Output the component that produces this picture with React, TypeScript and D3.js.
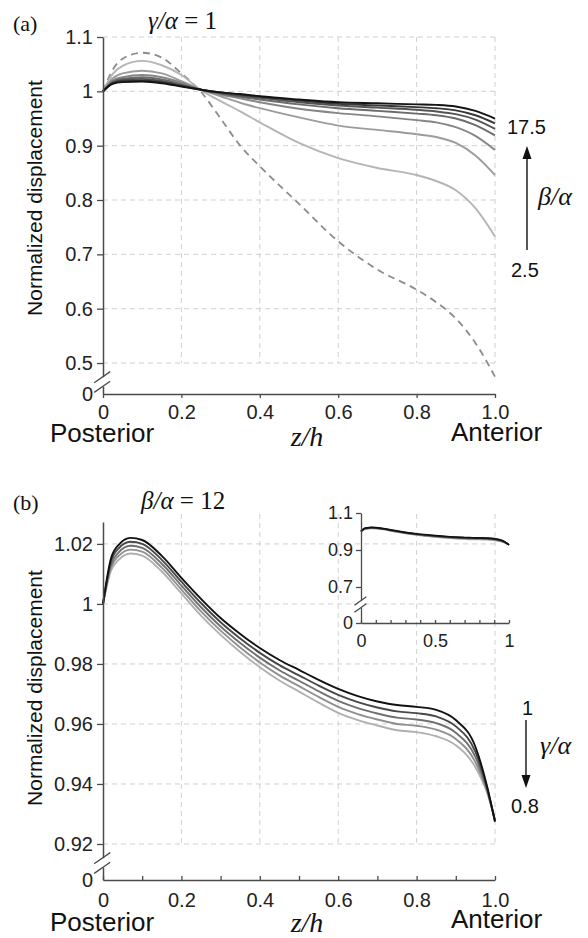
import React, { useEffect, useRef } from 'react';
import * as d3 from 'd3';

// ---- panel (a): gamma/alpha = 1, beta/alpha from 2.5 to 17.5 ----
const zA = [0, 0.025, 0.05, 0.1, 0.15, 0.2, 0.25, 0.3, 0.35, 0.4, 0.5, 0.6, 0.7, 0.8, 0.85, 0.9, 0.95, 1.0];
const dashedA = [1.0, 1.040, 1.060, 1.071, 1.062, 1.033, 0.999, 0.950, 0.900, 0.862, 0.793, 0.724, 0.672, 0.635, 0.612, 0.582, 0.537, 0.475];
const beta25 = [1.0, 1.032, 1.047, 1.056, 1.048, 1.030, 1.002, 0.982, 0.963, 0.943, 0.905, 0.877, 0.859, 0.846, 0.835, 0.818, 0.785, 0.733];
const beta5 = [1.0, 1.024, 1.033, 1.038, 1.033, 1.019, 1.003, 0.991, 0.979, 0.969, 0.952, 0.937, 0.929, 0.921, 0.916, 0.905, 0.882, 0.846];
const beta75 = [1.0, 1.020, 1.026, 1.030, 1.026, 1.016, 1.003, 0.994, 0.987, 0.980, 0.968, 0.960, 0.954, 0.947, 0.943, 0.934, 0.918, 0.892];
const beta10 = [1.0, 1.018, 1.023, 1.026, 1.022, 1.013, 1.003, 0.996, 0.990, 0.985, 0.976, 0.969, 0.964, 0.959, 0.956, 0.950, 0.938, 0.919];
const beta125 = [1.0, 1.016, 1.021, 1.023, 1.019, 1.011, 1.003, 0.997, 0.992, 0.988, 0.980, 0.974, 0.970, 0.966, 0.963, 0.958, 0.948, 0.931];
const beta15 = [1.0, 1.015, 1.019, 1.020, 1.017, 1.010, 1.003, 0.998, 0.994, 0.990, 0.983, 0.977, 0.974, 0.971, 0.969, 0.965, 0.956, 0.941];
const beta175 = [1.0, 1.014, 1.017, 1.018, 1.015, 1.009, 1.003, 0.998, 0.995, 0.991, 0.985, 0.980, 0.978, 0.976, 0.975, 0.972, 0.964, 0.950];
const seriesA = [beta25, beta5, beta75, beta10, beta125, beta15, beta175];
const greysA = ['#b5b5b5', '#9c9c9c', '#868686', '#6c6c6c', '#545454', '#383838', '#141414'];
const yTicksA = [0.5, 0.6, 0.7, 0.8, 0.9, 1, 1.1];

// ---- panel (b): beta/alpha = 12, gamma/alpha from 1 to 0.8 ----
const zB = [0, 0.02, 0.04, 0.07, 0.1, 0.15, 0.2, 0.25, 0.3, 0.35, 0.4, 0.45, 0.5, 0.55, 0.6, 0.65, 0.7, 0.75, 0.8, 0.85, 0.9, 0.95, 0.98, 1.0];
const gamma1 = [1.0, 1.015, 1.0197, 1.0220, 1.0213, 1.0160, 1.0087, 1.0017, 0.9953, 0.9900, 0.9853, 0.9813, 0.9780, 0.9747, 0.9717, 0.9693, 0.9675, 0.9663, 0.9657, 0.9647, 0.9613, 0.9524, 0.9391, 0.9274];
const gamma095 = [1.0, 1.014, 1.0185, 1.0207, 1.0200, 1.0147, 1.0074, 1.0003, 0.9939, 0.9885, 0.9837, 0.9796, 0.9762, 0.9728, 0.9697, 0.9673, 0.9655, 0.9642, 0.9636, 0.9625, 0.9592, 0.9507, 0.9386, 0.9276];
const gamma09 = [1.0, 1.013, 1.0172, 1.0194, 1.0187, 1.0134, 1.0061, 0.9989, 0.9925, 0.9870, 0.9821, 0.9779, 0.9744, 0.9709, 0.9677, 0.9653, 0.9635, 0.9621, 0.9615, 0.9603, 0.9571, 0.9490, 0.9381, 0.9278];
const gamma085 = [1.0, 1.012, 1.0160, 1.0181, 1.0174, 1.0121, 1.0048, 0.9975, 0.9911, 0.9855, 0.9805, 0.9762, 0.9726, 0.9690, 0.9657, 0.9633, 0.9615, 0.9600, 0.9594, 0.9581, 0.9550, 0.9473, 0.9376, 0.9280];
const gamma08 = [1.0, 1.011, 1.0147, 1.0168, 1.0161, 1.0108, 1.0035, 0.9961, 0.9897, 0.9840, 0.9789, 0.9745, 0.9708, 0.9671, 0.9637, 0.9613, 0.9595, 0.9579, 0.9573, 0.9559, 0.9529, 0.9456, 0.9371, 0.9282];
const seriesB = [gamma08, gamma085, gamma09, gamma095, gamma1];
const greysB = ['#b0b0b0', '#909090', '#707070', '#484848', '#111111'];
const yTicksB = [0.92, 0.94, 0.96, 0.98, 1, 1.02];
const insetYTicks = [0.7, 0.9, 1.1];

const SANS = '"Liberation Sans", Arial, sans-serif';
const SERIF = '"Liberation Serif", "Times New Roman", serif';
const AXIS = '#4a4a4a';
const GRID = '#d0d0d0';

const fmtY = (d: number) => (d === 0 ? '0' : d === 1 ? '1' : String(d));

function drawBreak(g: any, x0: number, yMid: number, w: number, off: number) {
  g.append('rect').attr('x', x0 - 3).attr('y', yMid - off).attr('width', 6).attr('height', off * 2).attr('fill', '#fff');
  [-off, off].forEach((o) => {
    g.append('line')
      .attr('x1', x0 - w * 0.55).attr('y1', yMid + o + w * 0.35)
      .attr('x2', x0 + w * 0.45).attr('y2', yMid + o - w * 0.35)
      .attr('stroke', AXIS).attr('stroke-width', 1.3);
  });
}

function styleAxis(sel: any, size: number) {
  sel.selectAll('path.domain').attr('stroke', AXIS).attr('stroke-width', 1.5);
  sel.selectAll('.tick line').attr('stroke', AXIS).attr('stroke-width', 1.3);
  sel.selectAll('.tick text').attr('font-family', SANS).attr('font-size', size).attr('fill', '#222');
}

const App = () => {
  const ref = useRef<SVGSVGElement | null>(null);

  useEffect(() => {
    if (!ref.current) return;
    const svg = d3.select(ref.current);
    svg.selectAll('*').remove();

    const x = d3.scaleLinear().domain([0, 1]).range([103, 495]);
    const tenths = d3.range(0, 11).map((i) => i / 10);

    // ---------- panel (a) ----------
    const yA = d3.scaleLinear().domain([0, 0.45, 1.1]).range([394, 390.2, 37]);
    const gA = svg.append('g');

    yTicksA.forEach((t) => {
      gA.append('line').attr('x1', x(0)).attr('x2', x(1)).attr('y1', yA(t)).attr('y2', yA(t))
        .attr('stroke', GRID).attr('stroke-dasharray', '5,4');
    });
    [0.2, 0.4, 0.6, 0.8, 1.0].forEach((t) => {
      gA.append('line').attr('x1', x(t)).attr('x2', x(t)).attr('y1', yA(1.1)).attr('y2', yA(0.5))
        .attr('stroke', GRID).attr('stroke-dasharray', '5,4');
    });

    const lineA = d3.line<number>().x((_, i) => x(zA[i])).y((d) => yA(d)).curve(d3.curveMonotoneX);
    gA.append('path').attr('d', lineA(dashedA)).attr('fill', 'none').attr('stroke', '#8c8c8c')
      .attr('stroke-width', 1.8).attr('stroke-dasharray', '7,5');
    seriesA.forEach((s, i) => {
      gA.append('path').attr('d', lineA(s)).attr('fill', 'none').attr('stroke', greysA[i]).attr('stroke-width', 1.9);
    });

    const axLA = gA.append('g').attr('transform', `translate(${x(0)},0)`)
      .call(d3.axisLeft(yA).tickValues([0, ...yTicksA]).tickFormat(fmtY as any).tickSize(6).tickSizeOuter(0).tickPadding(4));
    styleAxis(axLA, 20);
    axLA.selectAll('.tick').filter((d: any) => d === 0).select('line').remove();
    const axBA = gA.append('g').attr('transform', `translate(0,${yA(0)})`)
      .call(d3.axisBottom(x).tickValues([0, 0.2, 0.4, 0.6, 0.8, 1.0])
        .tickFormat((d: any) => (d === 0 ? '0' : d.toFixed(1))).tickSize(4).tickSizeOuter(0).tickPadding(7));
    styleAxis(axBA, 20);
    drawBreak(gA, x(0), 382, 16, 4.8);

    // ---------- panel (b) ----------
    const yB = d3.scaleLinear().domain([0, 0.92, 1.0273]).range([880, 844, 522]);
    const gB = svg.append('g');

    yTicksB.forEach((t) => {
      gB.append('line').attr('x1', x(0)).attr('x2', x(1)).attr('y1', yB(t)).attr('y2', yB(t))
        .attr('stroke', GRID).attr('stroke-dasharray', '5,4');
    });
    [0.2, 0.4, 0.6, 0.8, 1.0].forEach((t) => {
      gB.append('line').attr('x1', x(t)).attr('x2', x(t)).attr('y1', yB(1.03)).attr('y2', yB(0.92))
        .attr('stroke', GRID).attr('stroke-dasharray', '5,4');
    });

    const lineB = d3.line<number>().x((_, i) => x(zB[i])).y((d) => yB(d)).curve(d3.curveMonotoneX);
    seriesB.forEach((s, i) => {
      gB.append('path').attr('d', lineB(s)).attr('fill', 'none').attr('stroke', greysB[i]).attr('stroke-width', 1.9);
    });

    const axLB = gB.append('g').attr('transform', `translate(${x(0)},0)`)
      .call(d3.axisLeft(yB).tickValues([0, ...yTicksB]).tickFormat(fmtY as any).tickSize(6).tickSizeOuter(0).tickPadding(4));
    styleAxis(axLB, 20);
    axLB.selectAll('.tick').filter((d: any) => d === 0).select('line').remove();
    const axBB = gB.append('g').attr('transform', `translate(0,${yB(0)})`)
      .call(d3.axisBottom(x).tickValues(tenths)
        .tickFormat((d: any) => (Math.round(d * 10) % 2 === 0 ? (d === 0 ? '0' : d.toFixed(1)) : ''))
        .tickSize(-4).tickSizeOuter(0).tickPadding(13));
    styleAxis(axBB, 20);
    drawBreak(gB, x(0), 863, 16, 4.8);

    // ---------- inset ----------
    const xi = d3.scaleLinear().domain([0, 1]).range([361, 509]);
    const yi = d3.scaleLinear().domain([0, 0.7, 1.1]).range([623, 587, 513]);
    const gI = svg.append('g');
    const lineI = d3.line<number>().x((_, i) => xi(zB[i])).y((d) => yi(d)).curve(d3.curveMonotoneX);
    seriesB.forEach((s, i) => {
      gI.append('path').attr('d', lineI(s)).attr('fill', 'none').attr('stroke', greysB[i]).attr('stroke-width', 1.7);
    });
    const axLI = gI.append('g').attr('transform', `translate(${xi(0)},0)`)
      .call(d3.axisLeft(yi).tickValues([0, ...insetYTicks]).tickFormat(fmtY as any).tickSize(5).tickSizeOuter(0).tickPadding(3));
    styleAxis(axLI, 18);
    const axBI = gI.append('g').attr('transform', `translate(0,${yi(0)})`)
      .call(d3.axisBottom(xi).tickValues(tenths)
        .tickFormat((d: any) => (d === 0 ? '0' : d === 0.5 ? '0.5' : d === 1 ? '1' : ''))
        .tickSize(-3).tickSizeOuter(0).tickPadding(11));
    styleAxis(axBI, 18);
    axLI.selectAll('path.domain').attr('stroke-width', 1.3);
    axBI.selectAll('path.domain').attr('stroke-width', 1.3);
    drawBreak(gI, xi(0), 604.5, 12, 3.5);

    // ---------- texts ----------
    const txt = (t: string, px: number, py: number, size: number, family = SANS) =>
      svg.append('text').attr('x', px).attr('y', py).attr('font-family', family).attr('font-size', size)
        .attr('fill', '#111').text(t);

    [198, 688].forEach((cy) => {
      svg.append('text').attr('transform', `translate(42,${cy}) rotate(-90)`).attr('text-anchor', 'middle')
        .attr('font-family', SANS).attr('font-size', 21).attr('fill', '#111').text('Normalized displacement');
    });

    txt('(a)', 13, 31, 22, SERIF);
    txt('(b)', 13, 510, 22, SERIF);

    const ratio = (px: number, py: number, sym: string, rest: string, size: number) => {
      const t = svg.append('text').attr('x', px).attr('y', py).attr('font-family', SERIF).attr('font-size', size).attr('fill', '#111');
      t.append('tspan').attr('font-style', 'italic').text(sym + '/α');
      if (rest) t.append('tspan').text(rest);
    };
    ratio(148, 29, 'γ', ' = 1', 25);
    ratio(141, 509, 'β', ' = 12', 25);

    txt('Posterior', 50, 442, 26);
    txt('Anterior', 451, 441, 26);
    txt('Posterior', 50, 931, 26);
    txt('Anterior', 451, 928, 26);
    [446, 932].forEach((by) => {
      svg.append('text').attr('x', 307).attr('y', by).attr('text-anchor', 'middle').attr('font-family', SERIF)
        .attr('font-style', 'italic').attr('font-size', 28).attr('fill', '#111').text('z/h');
    });

    // annotation arrows
    const arrow = (ax: number, yFrom: number, yTip: number) => {
      const dir = yTip < yFrom ? 1 : -1;
      svg.append('line').attr('x1', ax).attr('x2', ax).attr('y1', yFrom).attr('y2', yTip + dir * 8)
        .attr('stroke', '#111').attr('stroke-width', 1.4);
      svg.append('path')
        .attr('d', `M${ax},${yTip} L${ax - 4.5},${yTip + dir * 13} L${ax + 4.5},${yTip + dir * 13} Z`)
        .attr('fill', '#111');
    };
    txt('17.5', 507, 134, 20);
    arrow(527, 250, 146);
    ratio(538, 205, 'β', '', 26);
    txt('2.5', 511, 277, 20);

    txt('1', 522, 715, 20);
    arrow(526, 720, 788);
    ratio(540, 754, 'γ', '', 26);
    txt('0.8', 511, 813, 20);
  }, []);

  return <svg ref={ref} width={588} height={938} style={{ position: 'absolute', left: 0, top: 0, background: '#fff' }} />;
};

export default App;
